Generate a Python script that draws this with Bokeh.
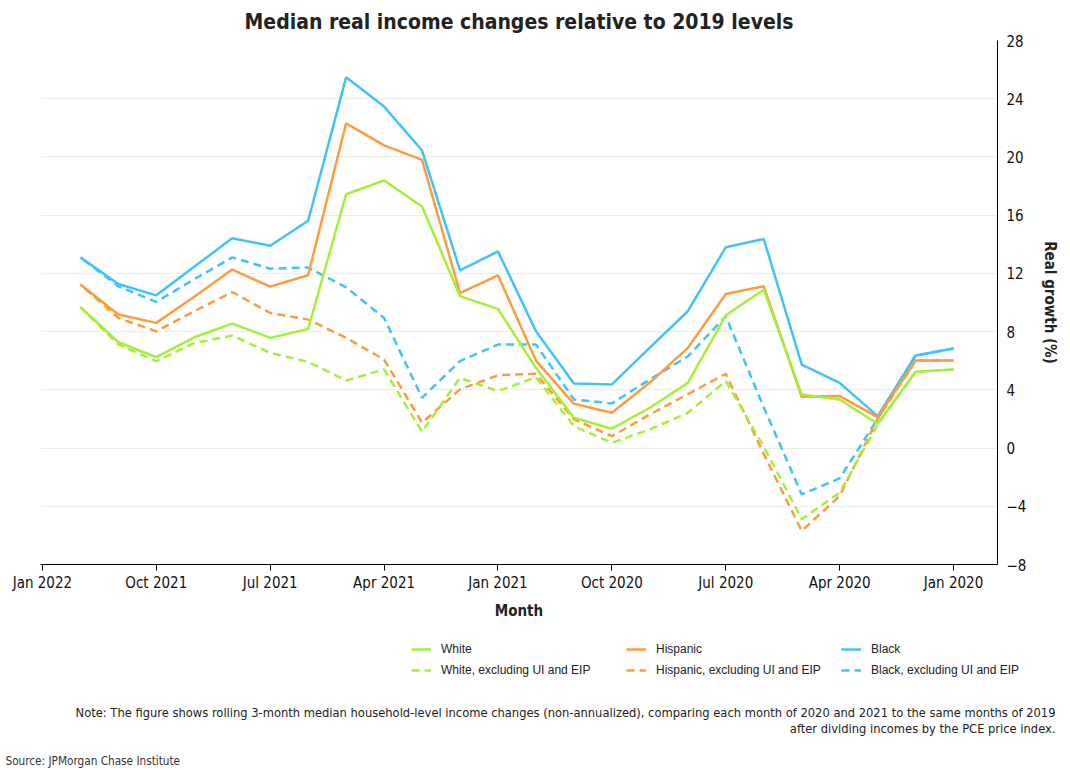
from bokeh.plotting import figure
from bokeh.models import (Range1d, FixedTicker, Label, Legend, LegendItem,
                          ColumnDataSource)
from bokeh.embed import file_html
from bokeh.resources import INLINE

# ---------------- data (Jan 2020 .. Dec 2021) ----------------
months = ["Jan 2020", "Feb 2020", "Mar 2020", "Apr 2020", "May 2020", "Jun 2020",
          "Jul 2020", "Aug 2020", "Sep 2020", "Oct 2020", "Nov 2020", "Dec 2020",
          "Jan 2021", "Feb 2021", "Mar 2021", "Apr 2021", "May 2021", "Jun 2021",
          "Jul 2021", "Aug 2021", "Sep 2021", "Oct 2021", "Nov 2021", "Dec 2021"]

black = [6.84, 6.36, 2.19, 4.48, 5.74, 14.36, 13.79, 9.40, 6.9, 4.37, 4.44, 8.02,
         13.51, 12.21, 20.44, 23.46, 25.47, 15.62, 13.90, 14.42, 12.45, 10.49, 11.27, 13.10]
black_ex = [6.84, 6.36, 2.0, -2.08, -3.18, 2.8, 9.05, 6.3, 4.71, 3.07, 3.34, 7.11,
            7.11, 5.97, 3.45, 8.94, 11.04, 12.41, 12.32, 13.10, 11.6, 10.04, 11.11, 13.10]
hispanic = [6.01, 6.01, 2.13, 3.57, 3.52, 11.11, 10.58, 6.88, 4.5, 2.42, 3.04, 6.01,
            11.87, 10.65, 19.80, 20.8, 22.31, 11.87, 11.09, 12.26, 10.4, 8.60, 9.17, 11.23]
hispanic_ex = [6.01, 6.01, 2.0, -3.29, -5.69, -0.4, 5.10, 3.7, 2.31, 0.82, 1.97, 5.10,
               5.0, 4.03, 1.74, 6.08, 7.57, 8.83, 9.28, 10.72, 9.40, 8.02, 8.94, 11.23]
white = [5.40, 5.24, 1.67, 3.34, 3.68, 10.88, 9.12, 4.48, 2.77, 1.33, 2.08, 5.51,
         9.56, 10.43, 16.60, 18.38, 17.44, 8.18, 7.57, 8.55, 7.61, 6.24, 7.27, 9.69]
white_ex = [5.40, 5.24, 1.6, -3.06, -4.89, 0.1, 4.6, 2.42, 1.28, 0.36, 1.51, 4.87,
            3.91, 4.82, 1.12, 5.40, 4.64, 5.92, 6.54, 7.73, 7.22, 5.97, 7.11, 9.69]

tick_labels = ["Jan 2020", "Apr 2020", "Jul 2020", "Oct 2020", "Jan 2021",
               "Apr 2021", "Jul 2021", "Oct 2021", "Jan 2022"]
y_ticks = [-8, -4, 0, 4, 8, 12, 16, 20, 24, 28]

series_labels = ["Black", "Black, excluding UI and EIP", "Hispanic",
                 "Hispanic, excluding UI and EIP", "White", "White, excluding UI and EIP"]

title_text = "Median real income changes relative to 2019 levels"
note1 = ("Note: The figure shows rolling 3-month median household-level income changes "
         "(non-annualized), comparing each month of 2020 and 2021 to the same months of 2019")
note2 = "after dividing incomes by the PCE price index."
source_text = "Source: JPMorgan Chase Institute"

# ---------------- styling ----------------
BLUE = "#3ec3fb"
ORANGE = "#ff9b3d"
GREEN = "#a5ef3a"
COND = "Liberation Sans Narrow, DejaVu Sans Condensed, Roboto"
REG = "Liberation Sans, Arial, Roboto"
W = 1062
H1, H2 = 630, 138

x = list(range(len(months)))
src = ColumnDataSource(dict(x=x, black=black, black_ex=black_ex, hispanic=hispanic,
                            hispanic_ex=hispanic_ex, white=white, white_ex=white_ex))
styles = [("black", BLUE, "solid"), ("black_ex", BLUE, "8 5"),
          ("hispanic", ORANGE, "solid"), ("hispanic_ex", ORANGE, "8 5"),
          ("white", GREEN, "solid"), ("white_ex", GREEN, "8 5")]

# ---------------- main chart ----------------
p = figure(width=W, height=H1, output_backend="svg", toolbar_location=None,
           y_axis_location="right",
           x_range=Range1d(24.05, -1.157), y_range=Range1d(-8, 28),
           min_border_left=40, min_border_right=W - 1001, min_border_top=40,
           min_border_bottom=H1 - 564, title=title_text)
p.outline_line_color = None
p.title.align = "center"
p.title.text_font = COND
p.title.text_font_size = "21px"
p.title.text_font_style = "bold"
p.title.text_color = "#222222"
p.title.standoff = 14

for col, color, dash in styles:
    p.line("x", col, source=src, line_color=color, line_width=2.5, line_dash=dash)

xa = p.xaxis[0]
xa.ticker = FixedTicker(ticks=[3 * i for i in range(len(tick_labels))])
xa.major_label_overrides = {3 * i: t for i, t in enumerate(tick_labels)}
xa.axis_label = "Month"
xa.axis_label_text_font = COND
xa.axis_label_text_font_style = "bold"
xa.axis_label_text_font_size = "15px"
xa.axis_label_text_color = "#222222"
xa.axis_label_standoff = 7
xa.major_label_text_font = COND
xa.major_label_text_font_size = "15px"
xa.major_label_text_color = "#111111"
xa.major_label_standoff = 3
xa.axis_line_color = "black"
xa.major_tick_line_color = "black"
xa.major_tick_out = 6
xa.major_tick_in = 0
xa.minor_tick_line_color = None

ya = p.yaxis[0]
ya.ticker = FixedTicker(ticks=y_ticks)
ya.axis_label = "Real growth (%)"
ya.axis_label_text_font = COND
ya.axis_label_text_font_style = "bold"
ya.axis_label_text_font_size = "15px"
ya.axis_label_text_color = "#222222"
ya.axis_label_standoff = 12
ya.major_label_text_font = COND
ya.major_label_text_font_size = "15px"
ya.major_label_text_color = "#111111"
ya.major_label_standoff = 9
ya.axis_line_color = "black"
ya.major_tick_out = 0
ya.major_tick_in = 0
ya.minor_tick_line_color = None

p.xgrid.grid_line_color = None
p.ygrid.grid_line_color = "#e9edf0"
p.ygrid.grid_line_width = 1

# ---------------- legend + notes panel (separate root, page-pixel units) ----------------
X0 = 1000  # panel x units = X0 + page x, keeps the key series out of view
q = figure(width=W, height=H2, output_backend="svg", toolbar_location=None,
           x_range=Range1d(X0, X0 + W), y_range=Range1d(H2, 0),
           min_border_left=0, min_border_right=0, min_border_top=0, min_border_bottom=0)
q.outline_line_color = None
q.axis.visible = False
q.grid.visible = False

key_renderers = {}
for col, color, dash in styles:
    key_renderers[col] = q.line("x", col, source=src, line_color=color, line_width=2.5,
                                line_dash=dash)

label_of = dict(zip([s[0] for s in styles], series_labels))
order = ["white", "white_ex", "hispanic", "hispanic_ex", "black", "black_ex"]
legend = Legend(items=[LegendItem(label=label_of[c], renderers=[key_renderers[c]]) for c in order],
                ncols=3, location=(411, H2 - 47), label_text_font=REG,
                label_text_font_size="12px", label_text_color="#222222",
                glyph_width=20, glyph_height=14, label_standoff=10, label_width=178,
                label_height=14, spacing=7, padding=4, margin=0,
                border_line_color=None, background_fill_alpha=0)
q.add_layout(legend, "center")

for txt, py in [(note1, 82), (note2, 98)]:
    q.add_layout(Label(x=X0 + 1055, y=py, text=txt, text_font=COND, text_font_size="12.8px",
                       text_color="#222222", text_align="right", text_baseline="middle"))
q.add_layout(Label(x=X0 + 5, y=130, text=source_text, text_font=COND,
                   text_font_size="11.7px", text_color="#333333", text_align="left",
                   text_baseline="middle"))

open("out.html", "w").write(file_html([p, q], INLINE))
